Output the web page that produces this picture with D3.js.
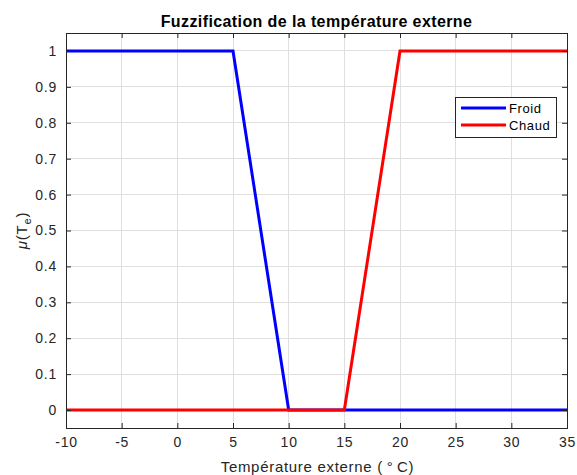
<!DOCTYPE html>
<html><head><meta charset="utf-8">
<script src="https://cdn.jsdelivr.net/npm/d3@7"></script>
<style>body{margin:0;background:#fff;} svg{display:block;font-family:"Liberation Sans",Arial,sans-serif;}</style>
</head><body>
<svg id="c" width="577" height="475"></svg>
<script>
const xTicks = [-10,-5,0,5,10,15,20,25,30,35];
const yTicks = [0,0.1,0.2,0.3,0.4,0.5,0.6,0.7,0.8,0.9,1];
const froidX = [-10,5,10,35];
const froidY = [1,1,0,0];
const chaudX = [-10,15,20,35];
const chaudY = [0,0,1,1];
const seriesNames = ["Froid","Chaud"];
const seriesColors = ["#0000ff","#ff0000"];

const svg = d3.select("#c");
const L=66,R=567,T=33,B=428;
const x = d3.scaleLinear().domain([-10,35]).range([L,R]);
const y = d3.scaleLinear().domain([-0.05,1.05]).range([B,T]);
const axCol="#262626", gridCol="#dfdfdf";

// grid
const g = svg.append("g");
g.selectAll("line.gx").data(xTicks).enter().append("line")
 .attr("x1",d=>x(d)).attr("x2",d=>x(d)).attr("y1",T).attr("y2",B)
 .attr("stroke",gridCol).attr("stroke-width",1).attr("shape-rendering","crispEdges");
g.selectAll("line.gy").data(yTicks).enter().append("line")
 .attr("y1",d=>y(d)).attr("y2",d=>y(d)).attr("x1",L).attr("x2",R)
 .attr("stroke",gridCol).attr("stroke-width",1).attr("shape-rendering","crispEdges");

// lines
const line = d3.line().x(d=>x(d[0])).y(d=>y(d[1]));
const data = [d3.zip(froidX,froidY), d3.zip(chaudX,chaudY)];
data.forEach((dd,i)=>{
  svg.append("path").datum(dd).attr("d",line).attr("fill","none")
   .attr("stroke",seriesColors[i]).attr("stroke-width",3).attr("stroke-linejoin","miter");
});

// axes
const tl = 5;
const axB = svg.append("g").attr("transform",`translate(0,${B})`)
 .call(d3.axisBottom(x).tickValues(xTicks).tickSize(-tl).tickPadding(9).tickFormat(d=>d));
const axT = svg.append("g").attr("transform",`translate(0,${T})`)
 .call(d3.axisTop(x).tickValues(xTicks).tickSize(-tl).tickFormat(""));
const axL = svg.append("g").attr("transform",`translate(${L},0)`)
 .call(d3.axisLeft(y).tickValues(yTicks).tickSize(-tl).tickPadding(9).tickFormat(d=>d3.format("")(d)));
const axRr = svg.append("g").attr("transform",`translate(${R},0)`)
 .call(d3.axisRight(y).tickValues(yTicks).tickSize(-tl).tickFormat(""));
[axB,axT,axL,axRr].forEach(a=>{
  a.select(".domain").remove();
  a.selectAll(".tick line").attr("stroke",axCol);
  a.selectAll(".tick text").attr("fill",axCol).style("font-size","14px")
   .style("letter-spacing","0.8px").style("font-family","'Liberation Sans',Arial,sans-serif");
});
svg.append("rect").attr("x",L).attr("y",T).attr("width",R-L).attr("height",B-T)
 .attr("fill","none").attr("stroke",axCol).attr("stroke-width",1).attr("shape-rendering","crispEdges");

// title
svg.append("text").attr("x",(L+R)/2).attr("y",27).attr("text-anchor","middle")
 .attr("font-weight","bold").attr("font-size","16px").attr("letter-spacing","0.4px").attr("fill","#000")
 .text("Fuzzification de la température externe");
// xlabel
svg.append("text").attr("x",(L+R)/2+1).attr("y",472).attr("text-anchor","middle")
 .attr("font-size","15px").attr("letter-spacing","0.7px").attr("fill",axCol).text("Température externe (\u2009°\u2009C)");
// ylabel
const yl = svg.append("text").attr("transform",`translate(27,${(T+B)/2}) rotate(-90)`)
 .attr("text-anchor","middle").attr("font-size","15px").attr("letter-spacing","0.8px").attr("fill",axCol);
yl.append("tspan").attr("font-style","italic").text("μ");
yl.append("tspan").text("(T");
yl.append("tspan").attr("font-size","11px").attr("dy",4).text("e");
yl.append("tspan").attr("dy",-4).text(")");

// legend
const lg = svg.append("g");
lg.append("rect").attr("x",455.5).attr("y",97.5).attr("width",101).attr("height",40)
 .attr("fill","#fff").attr("stroke",axCol).attr("stroke-width",1);
seriesNames.forEach((n,i)=>{
  const yy = 108+i*17;
  lg.append("line").attr("x1",461).attr("x2",506).attr("y1",yy).attr("y2",yy)
   .attr("stroke",seriesColors[i]).attr("stroke-width",3);
  lg.append("text").attr("x",509).attr("y",yy+4.5).attr("font-size","13px").attr("letter-spacing","0.6px").attr("fill","#000").text(n);
});
</script>
</body></html>
